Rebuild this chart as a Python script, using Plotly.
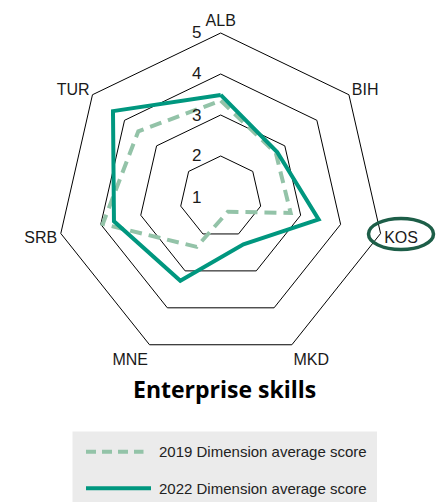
import plotly.graph_objects as go

# Enterprise skills scores by economy
categories = ["ALB", "BIH", "KOS", "MKD", "MNE", "SRB", "TUR"]
score_2019 = [3.35, 2.72, 2.75, 1.40, 2.35, 3.95, 3.57]
score_2022 = [3.49, 2.76, 3.45, 2.28, 3.27, 3.67, 4.36]
radial_ticks = [1, 2, 3, 4, 5]
radial_range = [1, 5]
series_names = ["2019 Dimension average score", "2022 Dimension average score"]
chart_title = "Enterprise skills"
highlight = "KOS"

W, H = 436, 502
CX, CY, R = 220.7, 197.0, 164.0  # polar centre / outer radius in px

FONT = "Liberation Sans, Arial, sans-serif"
C2019 = "#93c3a8"
C2022 = "#00977f"


def closed(v):
    return list(v) + [v[0]]


fig = go.Figure()
fig.add_trace(go.Scatterpolar(
    r=closed(score_2019), theta=closed(categories), mode="lines",
    line=dict(color=C2019, width=4, dash="12px,7px"),
    name=series_names[0], showlegend=False,
))
fig.add_trace(go.Scatterpolar(
    r=closed(score_2022), theta=closed(categories), mode="lines",
    line=dict(color=C2022, width=4),
    name=series_names[1], showlegend=False,
))


def px(x):
    return x / W


def py(y):
    return 1 - y / H


fig.update_layout(
    width=W, height=H,
    margin=dict(l=0, r=0, t=0, b=0),
    paper_bgcolor="white", plot_bgcolor="white",
    font=dict(family=FONT, size=16, color="#1a1a1a"),
    polar=dict(
        domain=dict(x=[px(CX - R), px(CX + R)], y=[py(CY + R), py(CY - R)]),
        gridshape="linear",
        bgcolor="white",
        radialaxis=dict(
            range=radial_range, tickvals=radial_ticks, angle=90,
            showticklabels=False,
            showline=False, ticks="", showgrid=True,
            gridcolor="black", gridwidth=1,
        ),
        angularaxis=dict(
            direction="clockwise", rotation=90,
            showgrid=False, showline=True, linecolor="black", linewidth=1,
            ticks="", tickfont=dict(size=16, family=FONT, color="#1a1a1a"),
        ),
    ),
)

# radial scale labels, set upright just left of the vertical axis
for t in radial_ticks:
    ty = CY - R * (t - radial_range[0]) / (radial_range[1] - radial_range[0])
    fig.add_annotation(
        x=px(CX - 18), y=py(ty), xref="paper", yref="paper",
        text=str(t), showarrow=False, xanchor="right", yanchor="middle",
        font=dict(family=FONT, size=17, color="#1a1a1a"),
    )

# title under the chart
fig.add_annotation(
    x=px(224), y=py(389), xref="paper", yref="paper",
    text="<b>" + chart_title + "</b>", showarrow=False,
    font=dict(family="Open Sans, sans-serif", size=23, color="black"),
    xanchor="center", yanchor="middle",
)

# ring around the highlighted economy label
hx, hy = 401.0, 234.0
fig.add_shape(
    type="circle", xref="paper", yref="paper",
    xsizemode="pixel", ysizemode="pixel",
    xanchor=px(hx), yanchor=py(hy),
    x0=-32.5, x1=32.5, y0=-15.5, y1=15.5,
    line=dict(color="#1d5e48", width=3.5),
)

# legend panel
fig.add_shape(
    type="rect", xref="paper", yref="paper",
    x0=px(72.5), x1=px(377), y0=py(H + 2), y1=py(431.5),
    fillcolor="#ebebeb", line=dict(width=0), layer="below",
)
legend_rows = [(451.7, C2019, "10px,6px", 143.5), (488.3, C2022, "solid", 151)]
for name, (yy, col, dash, xend) in zip(series_names, legend_rows):
    fig.add_shape(
        type="line", xref="paper", yref="paper",
        x0=px(86), x1=px(xend), y0=py(yy), y1=py(yy),
        line=dict(color=col, width=4, dash=dash),
    )
    fig.add_annotation(
        x=px(157), y=py(yy), xref="paper", yref="paper",
        text=name, showarrow=False, xanchor="left", yanchor="middle",
        font=dict(family=FONT, size=15, color="#222222"),
    )

fig.write_html("out.html")
